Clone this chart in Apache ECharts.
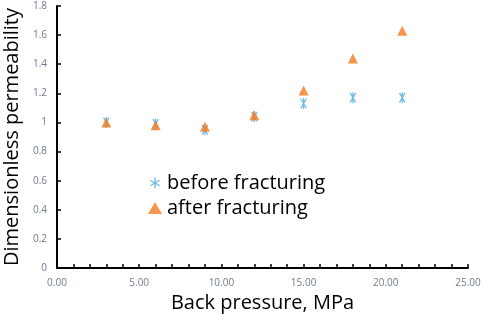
<!DOCTYPE html>
<html>
<head>
<meta charset="utf-8">
<script src="https://cdn.jsdelivr.net/npm/echarts@6/dist/echarts.min.js"></script>
<style>
  html, body { margin: 0; padding: 0; background: #fff; }
  #chart { width: 484px; height: 320px; }
</style>
</head>
<body>
<div id="chart"></div>
<script>
// back pressure, MPa
var pressure = [3, 6, 9, 12, 15, 18, 21];
// dimensionless permeability
var beforeFrac = [1.00, 0.99, 0.95, 1.04, 1.13, 1.17, 1.17];
var afterFrac = [1.00, 0.98, 0.97, 1.05, 1.22, 1.44, 1.63];

// filled asterisk: three thin bars
var asterisk = 'path://M-0.12,-1L0.12,-1L0.12,1L-0.12,1Z' +
  'M-0.396,-0.926L0.604,0.806L0.396,0.926L-0.604,-0.806Z' +
  'M0.396,-0.926L0.604,-0.806L-0.396,0.926L-0.604,0.806Z';

// legend icon as an image so the legend does not reuse the path symbol
var asteriskSvg = '<svg xmlns="http://www.w3.org/2000/svg" viewBox="-1.1 -1.1 2.2 2.2">' +
  '<path d="M0,-1V1M-0.87,-0.5L0.87,0.5M-0.87,0.5L0.87,-0.5" stroke="#4fa8e0" stroke-width="0.24" fill="none"/></svg>';
var asteriskIcon = 'image://data:image/svg+xml;charset=utf-8,' + encodeURIComponent(asteriskSvg);

function pairs(xs, ys) {
  return xs.map(function (x, i) { return [x, ys[i]]; });
}

var myChart = echarts.init(document.getElementById('chart'));
var labelColor = '#6f7b8c';
var fontName = 'Open Sans';

var option = {
  animation: false,
  grid: { left: 57, right: 16, top: 6, bottom: 52, outerBoundsMode: 'none' },
  legend: {
    orient: 'vertical',
    left: 143,
    top: 168,
    itemGap: 5,
    itemWidth: 14,
    itemHeight: 12,
    textStyle: { fontFamily: fontName, fontSize: 20, color: '#000' },
    data: [
      { name: 'before fracturing', icon: asteriskIcon },
      { name: 'after fracturing', icon: 'triangle' }
    ]
  },
  xAxis: {
    type: 'value',
    min: 0,
    max: 25,
    interval: 5,
    name: 'Back pressure, MPa',
    nameLocation: 'middle',
    nameGap: 24,
    nameTextStyle: { fontFamily: fontName, fontSize: 20, color: '#000', verticalAlign: 'top' },
    axisLine: { show: true, lineStyle: { color: '#000', width: 2 } },
    axisTick: { show: true, inside: true, length: 4, lineStyle: { color: '#000', width: 1.5 } },
    minorTick: { show: true, splitNumber: 5, length: 4, lineStyle: { color: '#000', width: 1.5 } },
    splitLine: { show: false },
    axisLabel: {
      fontFamily: fontName, fontSize: 10, color: labelColor, margin: 10,
      formatter: function (v) { return v.toFixed(2); }
    }
  },
  yAxis: {
    type: 'value',
    min: 0,
    max: 1.8,
    interval: 0.2,
    name: 'Dimensionless permeability',
    nameLocation: 'middle',
    nameGap: 30,
    nameTextStyle: { fontFamily: fontName, fontSize: 20, color: '#000' },
    axisLine: { show: true, lineStyle: { color: '#000', width: 2 } },
    axisTick: { show: true, inside: true, length: 4, lineStyle: { color: '#000', width: 1.5 } },
    splitLine: { show: false },
    axisLabel: {
      fontFamily: fontName, fontSize: 10, color: labelColor, margin: 10,
      formatter: function (v) { return String(Math.round(v * 10) / 10); }
    }
  },
  series: [
    {
      name: 'before fracturing',
      type: 'scatter',
      symbol: asterisk,
      symbolKeepAspect: true,
      symbolSize: 11,
      itemStyle: { color: '#4fa8e0' },
      data: pairs(pressure, beforeFrac)
    },
    {
      name: 'after fracturing',
      type: 'scatter',
      symbol: 'triangle',
      symbolSize: 10,
      itemStyle: { color: '#f47b20' },
      data: pairs(pressure, afterFrac)
    }
  ]
};
myChart.setOption(option);
</script>
</body>
</html>
